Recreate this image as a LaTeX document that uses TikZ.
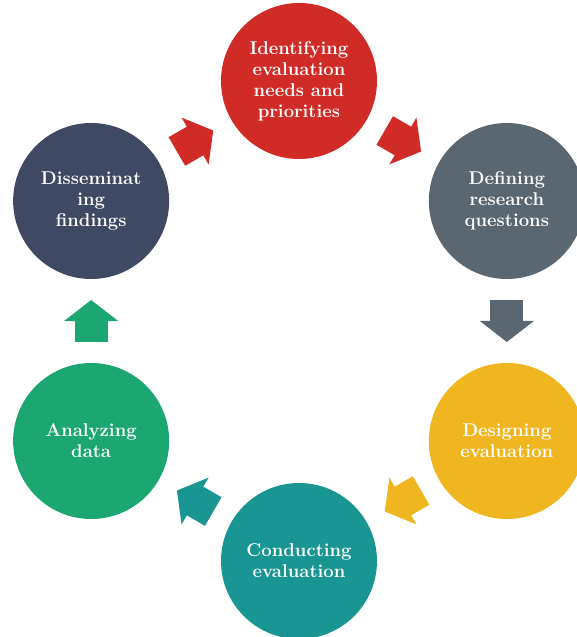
\documentclass[tikz,border=0pt]{standalone}
\usetikzlibrary{arrows.meta,calc}
\definecolor{cred}{HTML}{D12B28}
\definecolor{cgray}{HTML}{5B6770}
\definecolor{cyellow}{HTML}{F0B61F}
\definecolor{cteal}{HTML}{199593}
\definecolor{cgreen}{HTML}{1BA672}
\definecolor{cnavy}{HTML}{404964}

\begin{document}
\begin{tikzpicture}[x=1pt,y=1pt,
    stage/.style={circle,minimum size=156pt,inner sep=0pt,text=white,
      align=center,font=\fontsize{18.5}{21}\selectfont\bfseries},
    flow/.style={line width=33pt,-{Triangle[width=53pt,length=21pt]}}]
  \useasboundingbox (-299,-316) rectangle (278,321);
  \node[stage,fill=cred] (idn) at (90:240) {Identifying\\evaluation\\needs and\\priorities};
  \node[stage,fill=cgray] (def) at (30:240) {Defining\\research\\questions};
  \node[stage,fill=cyellow] (des) at (-30:240) {Designing\\evaluation};
  \node[stage,fill=cteal] (con) at (-90:240) {Conducting\\evaluation};
  \node[stage,fill=cgreen] (ana) at (-150:240) {Analyzing\\data};
  \node[stage,fill=cnavy] (dis) at (150:240) {Disseminat\\ing\\findings};
  \foreach \s/\t/\col in {dis/idn/cred,idn/def/cred,def/des/cgray,
    des/con/cyellow,con/ana/cteal,ana/dis/cgreen} {
    \draw[flow,color=\col] ($(\s)!0.4125!(\t)$) -- ($(\s)!0.5875!(\t)$); }
\end{tikzpicture}
\end{document}
